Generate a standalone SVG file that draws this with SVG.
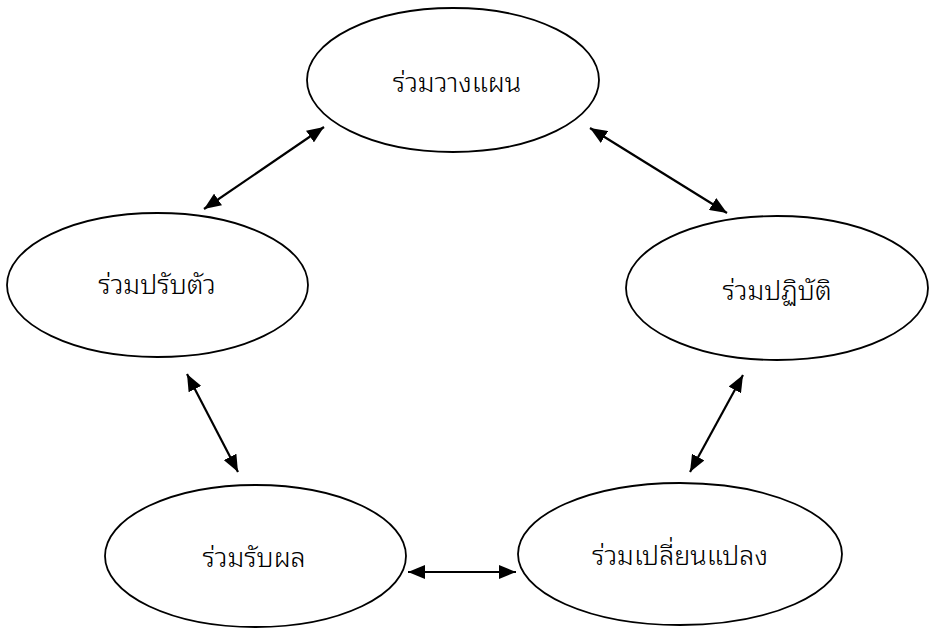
<svg xmlns="http://www.w3.org/2000/svg" width="929" height="628" viewBox="0 0 929 628">
  <style>
    .node ellipse { fill: #ffffff; stroke: #000000; stroke-width: 1.8; }
    .node text { font-family: "Noto Sans Thai Looped", "Noto Serif Thai", "Noto Sans Thai", "Noto Sans", "DejaVu Sans", sans-serif; font-size: 27px; font-weight: 300; fill: #000000; text-anchor: middle; }
    .conn line { stroke: #000000; stroke-width: 2.2; marker-start: url(#head); marker-end: url(#head); }
  </style>
  <defs>
    <marker id="head" viewBox="0 0 17 14" refX="17" refY="7" markerWidth="17" markerHeight="14" markerUnits="userSpaceOnUse" orient="auto-start-reverse">
      <path d="M0,0 L17,7 L0,14 Z" fill="#000000"/>
    </marker>
  </defs>
  <rect width="929" height="628" fill="#ffffff"/>
  <g id="connectors" class="conn">
    <line x1="204" y1="209" x2="324" y2="127"/>
    <line x1="590" y1="128" x2="727" y2="213"/>
    <line x1="187" y1="374" x2="238" y2="472"/>
    <line x1="743" y1="375" x2="690" y2="472"/>
    <line x1="408" y1="572" x2="516" y2="572"/>
  </g>
  <g id="node-plan" class="node">
    <ellipse cx="453" cy="80" rx="146" ry="72"/>
    <text x="457" y="92">ร่วมวางแผน</text>
  </g>
  <g id="node-adapt" class="node">
    <ellipse cx="157.5" cy="285" rx="150.5" ry="72"/>
    <text x="157" y="294">ร่วมปรับตัว</text>
  </g>
  <g id="node-practice" class="node">
    <ellipse cx="777" cy="288" rx="151" ry="72"/>
    <text x="777" y="300">ร่วมปฏิบัติ</text>
  </g>
  <g id="node-benefit" class="node">
    <ellipse cx="255.5" cy="556" rx="150.5" ry="71"/>
    <text x="254" y="567">ร่วมรับผล</text>
  </g>
  <g id="node-change" class="node">
    <ellipse cx="680" cy="554" rx="162" ry="71"/>
    <text x="680" y="565">ร่วมเปลี่ยนแปลง</text>
  </g>
</svg>
